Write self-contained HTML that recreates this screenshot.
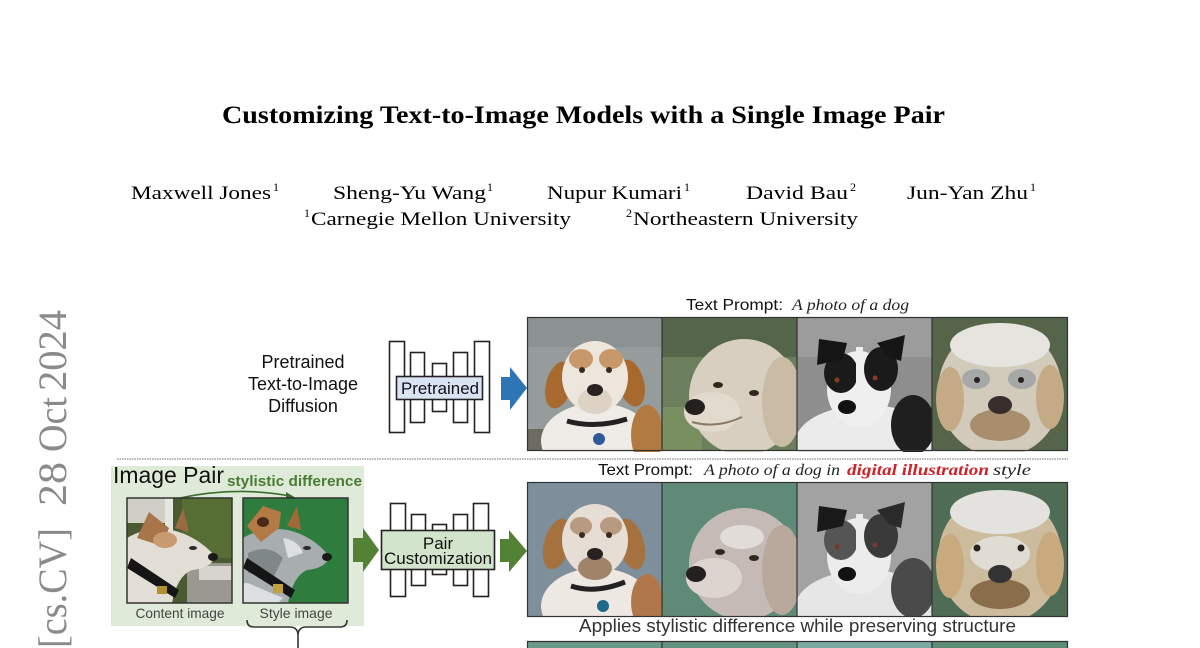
<!DOCTYPE html>
<html>
<head>
<meta charset="utf-8">
<style>
html,body{margin:0;padding:0;background:#fff;}
body{width:1200px;height:648px;overflow:hidden;}
svg{display:block;}
.serif{font-family:"Liberation Serif","Times New Roman",serif;}
.sans{font-family:"Liberation Sans",Arial,sans-serif;}
</style>
</head>
<body>
<svg width="1200" height="648" viewBox="0 0 1200 648" xmlns="http://www.w3.org/2000/svg">
<defs>
 <clipPath id="t135" clipPathUnits="userSpaceOnUse"><rect x="0" y="0" width="135" height="135"/></clipPath>
 <clipPath id="t105" clipPathUnits="userSpaceOnUse"><rect x="0" y="0" width="105" height="105"/></clipPath>
</defs>
<rect width="1200" height="648" fill="#fff"/>

<!-- Title -->
<text class="serif" x="222" y="123" font-size="25" font-weight="bold" fill="#000" textLength="723" lengthAdjust="spacingAndGlyphs">Customizing Text-to-Image Models with a Single Image Pair</text>

<!-- Authors -->
<g class="serif" font-size="19" fill="#000">
<text x="131" y="199" textLength="140" lengthAdjust="spacingAndGlyphs">Maxwell Jones</text>
<text x="273" y="191" font-size="12">1</text>
<text x="333" y="199" textLength="153" lengthAdjust="spacingAndGlyphs">Sheng-Yu Wang</text>
<text x="487" y="191" font-size="12">1</text>
<text x="547" y="199" textLength="135" lengthAdjust="spacingAndGlyphs">Nupur Kumari</text>
<text x="684" y="191" font-size="12">1</text>
<text x="746" y="199" textLength="102" lengthAdjust="spacingAndGlyphs">David Bau</text>
<text x="850" y="191" font-size="12">2</text>
<text x="907" y="199" textLength="121" lengthAdjust="spacingAndGlyphs">Jun-Yan Zhu</text>
<text x="1030" y="191" font-size="12">1</text>
<text x="304" y="217" font-size="12">1</text>
<text x="311" y="225" textLength="260" lengthAdjust="spacingAndGlyphs">Carnegie Mellon University</text>
<text x="626" y="217" font-size="12">2</text>
<text x="633" y="225" textLength="225" lengthAdjust="spacingAndGlyphs">Northeastern University</text>
</g>

<!-- arXiv vertical stamp -->
<g class="serif" font-size="40" fill="#8a8a8a">
<text transform="translate(66,648) rotate(-90)" x="0" y="0" textLength="120" lengthAdjust="spacingAndGlyphs">[cs.CV]</text>
<text transform="translate(66,506) rotate(-90)" x="0" y="0" textLength="44" lengthAdjust="spacingAndGlyphs">28</text>
<text transform="translate(66,452) rotate(-90)" x="0" y="0" textLength="55" lengthAdjust="spacingAndGlyphs">Oct</text>
<text transform="translate(66,391) rotate(-90)" x="0" y="0" textLength="81" lengthAdjust="spacingAndGlyphs">2024</text>
</g>

<!-- Top section label -->
<g class="sans" font-size="18" fill="#111" text-anchor="middle">
<text x="303" y="368">Pretrained</text>
<text x="303" y="390">Text-to-Image</text>
<text x="303" y="412">Diffusion</text>
</g>

<!-- Pretrained U-net -->
<g fill="#fff" stroke="#222" stroke-width="1.6">
<rect x="389.5" y="341.5" width="15" height="91"/>
<rect x="410.5" y="352.5" width="14" height="70"/>
<rect x="432.5" y="363.5" width="14" height="48"/>
<rect x="453.5" y="352.5" width="14" height="70"/>
<rect x="474.5" y="341.5" width="15" height="91"/>
<rect x="396.5" y="376.5" width="86" height="23" fill="#dae3f3"/>
</g>
<text class="sans" x="401" y="394" font-size="17" fill="#111" textLength="78" lengthAdjust="spacingAndGlyphs">Pretrained</text>

<!-- Blue arrow -->
<polygon points="501,377 510,377 510,367 527,388 510,410 510,400 501,400" fill="#2e75b6"/>

<!-- Top prompt -->
<text class="sans" x="686" y="310" font-size="16" fill="#111" textLength="97" lengthAdjust="spacingAndGlyphs">Text Prompt:</text>
<text class="serif" x="792" y="310" font-size="16" font-style="italic" fill="#222" textLength="117" lengthAdjust="spacingAndGlyphs">A photo of a dog</text>

<!-- Row 1 images -->
<g>
 <g transform="translate(527,317)" clip-path="url(#t135)">
  <rect width="135" height="134" fill="#969c9c"/>
  <rect x="0" y="0" width="135" height="30" fill="#8c9292"/>
  <rect x="0" y="112" width="30" height="22" fill="#6d6a62"/>
  <ellipse cx="70" cy="124" rx="56" ry="38" fill="#efece7"/>
  <ellipse cx="120" cy="118" rx="16" ry="30" fill="#b07a40"/>
  <ellipse cx="32" cy="68" rx="13" ry="24" fill="#a8692f" transform="rotate(15 32 68)"/>
  <ellipse cx="104" cy="66" rx="13" ry="24" fill="#a8692f" transform="rotate(-15 104 66)"/>
  <ellipse cx="68" cy="60" rx="33" ry="36" fill="#ede6dc"/>
  <ellipse cx="54" cy="42" rx="12" ry="10" fill="#c8986a"/>
  <ellipse cx="84" cy="42" rx="12" ry="10" fill="#c8986a"/>
  <ellipse cx="68" cy="84" rx="17" ry="13" fill="#ddd2c4"/>
  <circle cx="55" cy="53" r="3" fill="#3a2a20"/>
  <circle cx="82" cy="53" r="3" fill="#3a2a20"/>
  <ellipse cx="68" cy="73" rx="8" ry="6" fill="#2a2220"/>
  <path d="M40,104 Q68,112 100,102" stroke="#222" stroke-width="5" fill="none"/>
  <circle cx="72" cy="122" r="6" fill="#2e5a9a"/>
 </g>
 <g transform="translate(662,317)" clip-path="url(#t135)">
  <rect width="135" height="134" fill="#6c7f5c"/>
  <rect width="135" height="40" fill="#55654a"/>
  <rect x="0" y="90" width="40" height="44" fill="#78905f"/>
  <ellipse cx="82" cy="80" rx="55" ry="58" fill="#d8cfc1"/>
  <ellipse cx="120" cy="85" rx="20" ry="45" fill="#c9bba4"/>
  <ellipse cx="50" cy="95" rx="28" ry="20" fill="#e2dacd"/>
  <ellipse cx="33" cy="90" rx="10" ry="8" fill="#252020"/>
  <ellipse cx="56" cy="68" rx="5" ry="3" fill="#302820"/>
  <ellipse cx="92" cy="76" rx="5" ry="3" fill="#302820"/>
  <path d="M30,105 Q55,112 80,100" stroke="#8a7a68" stroke-width="2" fill="none"/>
 </g>
 <g transform="translate(797,317)" clip-path="url(#t135)">
  <rect width="135" height="134" fill="#8e8e8e"/>
  <rect width="135" height="40" fill="#9c9c9c"/>
  <ellipse cx="70" cy="126" rx="72" ry="38" fill="#ebebeb"/>
  <ellipse cx="116" cy="108" rx="22" ry="30" fill="#1f1f1f"/>
  <ellipse cx="62" cy="72" rx="32" ry="38" fill="#efefef"/>
  <ellipse cx="44" cy="56" rx="17" ry="20" fill="#1a1a1a"/>
  <ellipse cx="84" cy="52" rx="17" ry="22" fill="#1a1a1a"/>
  <polygon points="20,48 22,22 50,26 46,42" fill="#151515"/>
  <polygon points="80,26 108,18 104,44 92,40" fill="#151515"/>
  <rect x="59" y="30" width="7" height="40" fill="#efefef"/>
  <ellipse cx="50" cy="90" rx="9" ry="7" fill="#111"/>
  <circle cx="40" cy="63" r="2.5" fill="#8a3a20"/>
  <circle cx="78" cy="61" r="2.5" fill="#8a3a20"/>
 </g>
 <g transform="translate(932,317)" clip-path="url(#t135)">
  <rect width="136" height="134" fill="#56644a"/>
  <ellipse cx="68" cy="74" rx="62" ry="66" fill="#d2cabb"/>
  <ellipse cx="68" cy="28" rx="50" ry="22" fill="#e6e4df"/>
  <ellipse cx="18" cy="82" rx="14" ry="32" fill="#c4ab85"/>
  <ellipse cx="118" cy="80" rx="14" ry="32" fill="#c4ab85"/>
  <ellipse cx="44" cy="62" rx="14" ry="10" fill="#a6a8a8"/>
  <ellipse cx="90" cy="62" rx="14" ry="10" fill="#a6a8a8"/>
  <circle cx="45" cy="63" r="3" fill="#2a2220"/>
  <circle cx="89" cy="63" r="3" fill="#2a2220"/>
  <ellipse cx="68" cy="108" rx="30" ry="16" fill="#a88e6c"/>
  <ellipse cx="68" cy="88" rx="12" ry="9" fill="#3a2e2c"/>
 </g>
 <g fill="none" stroke="#333" stroke-width="1.2">
  <rect x="527.5" y="317.5" width="540" height="133"/>
  <line x1="662" y1="317" x2="662" y2="451"/>
  <line x1="797" y1="317" x2="797" y2="451"/>
  <line x1="932" y1="317" x2="932" y2="451"/>
 </g>
</g>

<!-- Dotted separator -->
<line x1="117" y1="459" x2="1068" y2="459" stroke="#b4b4b4" stroke-width="2" stroke-dasharray="1.5 1"/>

<!-- Bottom prompt -->
<text class="sans" x="598" y="475" font-size="16" fill="#111" textLength="95" lengthAdjust="spacingAndGlyphs">Text Prompt:</text>
<text class="serif" x="704" y="475" font-size="16" font-style="italic" fill="#222" textLength="136" lengthAdjust="spacingAndGlyphs">A photo of a dog in</text>
<text class="serif" x="847" y="475" font-size="16" font-style="italic" font-weight="bold" fill="#cc2229" textLength="142" lengthAdjust="spacingAndGlyphs">digital illustration</text>
<text class="serif" x="993" y="475" font-size="16" font-style="italic" fill="#222" textLength="38" lengthAdjust="spacingAndGlyphs">style</text>

<!-- Image pair panel -->
<rect x="111" y="466" width="253" height="160" fill="#dfebd8"/>
<text class="sans" x="113" y="483" font-size="23" fill="#111" textLength="111" lengthAdjust="spacingAndGlyphs">Image Pair</text>
<text class="sans" x="227" y="486" font-size="15" font-weight="bold" fill="#4a7c35" textLength="135" lengthAdjust="spacingAndGlyphs">stylistic difference</text>
<path d="M180,498 Q236,486 290,496" stroke="#3d6b2e" stroke-width="1.6" fill="none"/>
<polygon points="286,492 296,498 286,500" fill="#3d6b2e"/>

<!-- Content image -->
<g transform="translate(127,498)" clip-path="url(#t105)">
 <rect width="105" height="105" fill="#4a5a32"/>
 <rect x="0" y="0" width="40" height="25" fill="#cfcfc6"/>
 <rect x="55" y="0" width="50" height="60" fill="#566e34"/>
 <rect x="38" y="0" width="8" height="50" fill="#e6e6e0"/>
 <rect x="60" y="65" width="45" height="40" fill="#9a9890"/>
 <rect x="72" y="68" width="33" height="14" fill="#d6d4cc"/>
 <path d="M0,40 Q20,28 45,32 Q70,38 88,58 Q85,70 65,72 Q50,78 45,105 L0,105 Z" fill="#e2ddd5"/>
 <polygon points="10,40 22,14 42,30 35,48" fill="#a8744a"/>
 <polygon points="48,30 56,10 62,34" fill="#9a6a40"/>
 <ellipse cx="38" cy="42" rx="12" ry="8" fill="#c89a70"/>
 <ellipse cx="86" cy="59" rx="5" ry="4" fill="#1a1a1a"/>
 <ellipse cx="66" cy="50" rx="4" ry="2" fill="#2a2a2a"/>
 <path d="M0,70 L48,100 L52,92 L4,60 Z" fill="#151515"/>
 <rect x="30" y="88" width="10" height="8" fill="#b09030"/>
</g>
<rect x="127" y="498" width="105" height="105" fill="none" stroke="#333" stroke-width="1.5"/>

<!-- Style image -->
<g transform="translate(243,498)" clip-path="url(#t105)">
 <rect width="105" height="105" fill="#2e7d3e"/>
 <path d="M0,40 Q20,28 45,32 Q70,38 86,58 Q84,70 64,72 Q50,78 45,105 L0,105 Z" fill="#a8aeb0"/>
 <path d="M5,55 Q25,45 40,60 L30,80 L5,75 Z" fill="#7f8789"/>
 <path d="M40,40 Q55,42 60,55 L45,60 Z" fill="#dcdfe0"/>
 <path d="M5,85 L40,100 L35,105 L0,105 L0,85 Z" fill="#dcdfe0"/>
 <polygon points="4,28 20,8 38,14 36,30 18,44" fill="#b47a45"/>
 <ellipse cx="20" cy="24" rx="6" ry="5" fill="#4a2a1a"/>
 <polygon points="44,28 54,8 58,32" fill="#a06a38"/>
 <ellipse cx="84" cy="59" rx="5" ry="4" fill="#1a1a1a"/>
 <ellipse cx="64" cy="50" rx="4" ry="2" fill="#2a2a2a"/>
 <path d="M0,70 L48,100 L52,92 L4,60 Z" fill="#151515"/>
 <rect x="30" y="86" width="10" height="9" fill="#c0a040"/>
</g>
<rect x="243" y="498" width="105" height="105" fill="none" stroke="#333" stroke-width="1.5"/>

<text class="sans" x="180" y="618" font-size="14" fill="#444" text-anchor="middle" textLength="89" lengthAdjust="spacingAndGlyphs">Content image</text>
<text class="sans" x="296" y="618" font-size="14" fill="#444" text-anchor="middle" textLength="73" lengthAdjust="spacingAndGlyphs">Style image</text>

<!-- Brace -->
<path d="M247,620 Q247,627 254,627 L290,627 Q297,627 298,634 Q299,627 306,627 L340,627 Q347,627 347,620" stroke="#333" stroke-width="1.6" fill="none"/>
<line x1="298" y1="633" x2="298" y2="648" stroke="#333" stroke-width="1.6"/>

<!-- Green arrow 1 -->
<polygon points="353,538 363,538 363,528 379,550 363,572 363,562 353,562" fill="#548235"/>

<!-- Pair U-net -->
<g fill="#fff" stroke="#222" stroke-width="1.6">
<rect x="390.5" y="503.5" width="15" height="93"/>
<rect x="411.5" y="514.5" width="14" height="71"/>
<rect x="432.5" y="524.5" width="14" height="50"/>
<rect x="453.5" y="514.5" width="14" height="71"/>
<rect x="473.5" y="503.5" width="15" height="93"/>
<rect x="381.5" y="530.5" width="113" height="39" fill="#d3e4cc"/>
</g>
<text class="sans" x="438" y="549" font-size="17" fill="#111" text-anchor="middle">Pair</text>
<text class="sans" x="438" y="564" font-size="17" fill="#111" text-anchor="middle" textLength="108" lengthAdjust="spacingAndGlyphs">Customization</text>

<!-- Green arrow 2 -->
<polygon points="500,539 509,539 509,530 527,551 509,572 509,562 500,562" fill="#548235"/>

<!-- Row 2 images -->
<g>
 <g transform="translate(527,482)" clip-path="url(#t135)">
  <rect width="135" height="135" fill="#7e8e9b"/>
  <ellipse cx="70" cy="124" rx="56" ry="38" fill="#eee8e2"/>
  <ellipse cx="120" cy="120" rx="16" ry="28" fill="#b0784a"/>
  <ellipse cx="30" cy="62" rx="13" ry="26" fill="#a5723f" transform="rotate(15 30 62)"/>
  <ellipse cx="104" cy="62" rx="13" ry="26" fill="#a5723f" transform="rotate(-15 104 62)"/>
  <ellipse cx="68" cy="58" rx="33" ry="36" fill="#e6ddd4"/>
  <ellipse cx="54" cy="44" rx="11" ry="9" fill="#b89a80"/>
  <ellipse cx="84" cy="44" rx="11" ry="9" fill="#b89a80"/>
  <ellipse cx="68" cy="86" rx="17" ry="12" fill="#a0846a"/>
  <circle cx="55" cy="53" r="3" fill="#3a2a20"/>
  <circle cx="82" cy="53" r="3" fill="#3a2a20"/>
  <ellipse cx="68" cy="72" rx="8" ry="6" fill="#2a2220"/>
  <path d="M44,104 Q68,112 98,100" stroke="#222" stroke-width="5" fill="none"/>
  <circle cx="76" cy="124" r="6" fill="#1e6a8a"/>
 </g>
 <g transform="translate(662,482)" clip-path="url(#t135)">
  <rect width="135" height="135" fill="#5f8a77"/>
  <ellipse cx="82" cy="82" rx="55" ry="56" fill="#c6bab6"/>
  <ellipse cx="120" cy="88" rx="20" ry="45" fill="#b9a89c"/>
  <ellipse cx="52" cy="96" rx="28" ry="20" fill="#ddd4d0"/>
  <ellipse cx="34" cy="92" rx="10" ry="8" fill="#252020"/>
  <ellipse cx="58" cy="70" rx="5" ry="3" fill="#302820"/>
  <ellipse cx="92" cy="76" rx="5" ry="3" fill="#302820"/>
  <ellipse cx="80" cy="55" rx="22" ry="12" fill="#e2dcd8"/>
 </g>
 <g transform="translate(797,482)" clip-path="url(#t135)">
  <rect width="135" height="135" fill="#a2a2a2"/>
  <ellipse cx="70" cy="126" rx="72" ry="38" fill="#e6e6e6"/>
  <ellipse cx="116" cy="106" rx="22" ry="30" fill="#4a4a4a"/>
  <ellipse cx="62" cy="74" rx="32" ry="38" fill="#ececec"/>
  <ellipse cx="44" cy="58" rx="17" ry="20" fill="#555"/>
  <ellipse cx="84" cy="54" rx="17" ry="22" fill="#3a3a3a"/>
  <polygon points="20,50 22,24 50,28 46,44" fill="#1a1a1a"/>
  <polygon points="80,28 108,20 104,46 92,42" fill="#2a2a2a"/>
  <rect x="59" y="32" width="7" height="40" fill="#ececec"/>
  <ellipse cx="50" cy="92" rx="9" ry="7" fill="#111"/>
  <circle cx="40" cy="65" r="2.5" fill="#7a3a2a"/>
  <circle cx="78" cy="63" r="2.5" fill="#7a3a2a"/>
 </g>
 <g transform="translate(932,482)" clip-path="url(#t135)">
  <rect width="136" height="135" fill="#4f6c56"/>
  <ellipse cx="68" cy="76" rx="62" ry="66" fill="#cdbb9e"/>
  <ellipse cx="68" cy="30" rx="50" ry="22" fill="#e4e2de"/>
  <ellipse cx="18" cy="84" rx="14" ry="32" fill="#c9aa7e"/>
  <ellipse cx="118" cy="82" rx="14" ry="32" fill="#c9aa7e"/>
  <ellipse cx="68" cy="72" rx="30" ry="18" fill="#e0dcd4"/>
  <circle cx="45" cy="66" r="3.5" fill="#2a2220"/>
  <circle cx="89" cy="66" r="3.5" fill="#2a2220"/>
  <ellipse cx="68" cy="112" rx="30" ry="15" fill="#8a6e4c"/>
  <ellipse cx="68" cy="92" rx="12" ry="9" fill="#333"/>
 </g>
 <g fill="none" stroke="#333" stroke-width="1.2">
  <rect x="527.5" y="482.5" width="540" height="134"/>
  <line x1="662" y1="482" x2="662" y2="617"/>
  <line x1="797" y1="482" x2="797" y2="617"/>
  <line x1="932" y1="482" x2="932" y2="617"/>
 </g>
</g>

<text class="sans" x="579" y="632" font-size="18" fill="#333" textLength="437" lengthAdjust="spacingAndGlyphs">Applies stylistic difference while preserving structure</text>

<!-- Row 3 (cut) -->
<g>
 <rect x="527" y="641" width="135" height="7" fill="#6a9a88"/>
 <rect x="662" y="641" width="135" height="7" fill="#629280"/>
 <rect x="797" y="641" width="135" height="7" fill="#7aa9a2"/>
 <rect x="932" y="641" width="136" height="7" fill="#5d8d74"/>
 <g fill="none" stroke="#333" stroke-width="1.2">
  <line x1="527" y1="641.5" x2="1068" y2="641.5"/>
  <line x1="527.5" y1="641" x2="527.5" y2="648"/>
  <line x1="662" y1="641" x2="662" y2="648"/>
  <line x1="797" y1="641" x2="797" y2="648"/>
  <line x1="932" y1="641" x2="932" y2="648"/>
  <line x1="1067.5" y1="641" x2="1067.5" y2="648"/>
 </g>
</g>
</svg>
</body>
</html>
